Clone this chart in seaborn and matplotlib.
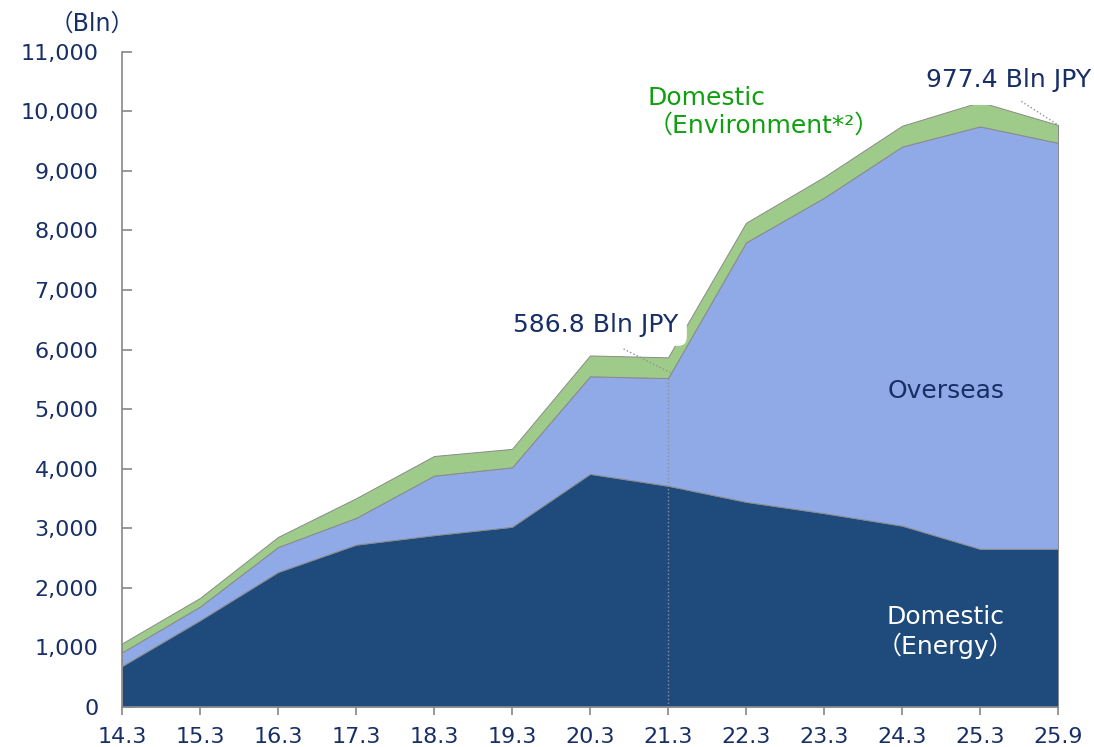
import matplotlib
matplotlib.use("Agg")
import numpy as np
import matplotlib.pyplot as plt
import seaborn as sns

# Fiscal year-end labels (categorical, evenly spaced)
years = ['14.3', '15.3', '16.3', '17.3', '18.3', '19.3', '20.3',
         '21.3', '22.3', '23.3', '24.3', '25.3', '25.9']

# values in units of 100 mn JPY ("Bln" axis)
energy = [680, 1450, 2260, 2720, 2880, 3020, 3910,
          3710, 3440, 3250, 3040, 2650, 2650]
overseas = [230, 230, 420, 450, 1000, 1000, 1640,
            1810, 4360, 5300, 6370, 7100, 6824]
environment = [150, 145, 170, 330, 330, 310, 350,
               348, 330, 350, 350, 410, 300]

yticks = list(range(0, 11001, 1000))

navy = '#172f66'
green_txt = '#0ea00e'
palette = sns.color_palette(['#1f4a7c', '#8faae6', '#9fcb8a'])

sns.set_style('ticks')
plt.rcParams['font.family'] = ['DejaVu Sans', 'Noto Sans CJK JP']

fig = plt.figure(figsize=(10.94, 7.47), dpi=100)
ax = fig.add_axes([0.1115, 0.0542, 0.8556, 0.8762])

x = np.arange(len(years))
ax.stackplot(x, energy, overseas, environment, colors=palette,
             edgecolor='#8a8a8a', linewidth=0.7, zorder=2)

ax.set_xlim(0, len(years) - 1)
ax.set_ylim(0, 11000)
ax.set_xticks(x)
ax.set_xticklabels(years)
ax.set_yticks(yticks)
ax.set_yticklabels(["{:,}".format(v) for v in yticks])

ax.tick_params(axis='y', direction='in', length=7, width=1.2,
               color='#888888', labelsize=16, labelcolor=navy, pad=17)
ax.tick_params(axis='x', direction='out', length=6, width=1.2,
               color='#888888', labelsize=16, labelcolor=navy, pad=9)
for side in ['left', 'bottom']:
    ax.spines[side].set_color('#888888')
    ax.spines[side].set_linewidth(1.2)
    ax.spines[side].set_zorder(5)
sns.despine(ax=ax)

# dotted marker at 21.3
i21 = years.index('21.3')
blue_top = energy[i21] + overseas[i21]
ax.plot([i21, i21], [0, blue_top], ls=':', color='#909090', lw=1, zorder=3)

# annotations with white boxes
ax.text(6.07, 6410, '586.8 Bln JPY', fontsize=18, color=navy,
        ha='center', va='center', zorder=4,
        bbox=dict(boxstyle='round,pad=0.35', fc='white', ec='none'))
ax.plot([6.43, 7.03], [6010, 5610], ls=':', color='#909090', lw=1, zorder=6)

i_last = len(years) - 1
total_last = energy[i_last] + overseas[i_last] + environment[i_last]
ax.text(11.36, 10522, '977.4 Bln JPY', fontsize=18, color=navy,
        ha='center', va='center', zorder=4, clip_on=False,
        bbox=dict(boxstyle='round,pad=0.5', fc='white', ec='none'))
ax.plot([11.53, 12], [10170, total_last], ls=':', color='#909090', lw=1,
        zorder=6, clip_on=False)

ax.text(6.74, 10000, 'Domestic\n（Environment*²）', fontsize=18,
        color=green_txt, ha='left', va='center', zorder=6)
ax.text(10.56, 5307, 'Overseas', fontsize=18, color=navy,
        ha='center', va='center', zorder=6)
ax.text(10.56, 1253, 'Domestic\n（Energy）', fontsize=18, color='white',
        ha='center', va='center', zorder=6, multialignment='center')

fig.text(92 / 1094, 1 - 24 / 747, '（Bln）', fontsize=17, color=navy,
         ha='center', va='center')

fig.savefig('out.png', dpi=100)
